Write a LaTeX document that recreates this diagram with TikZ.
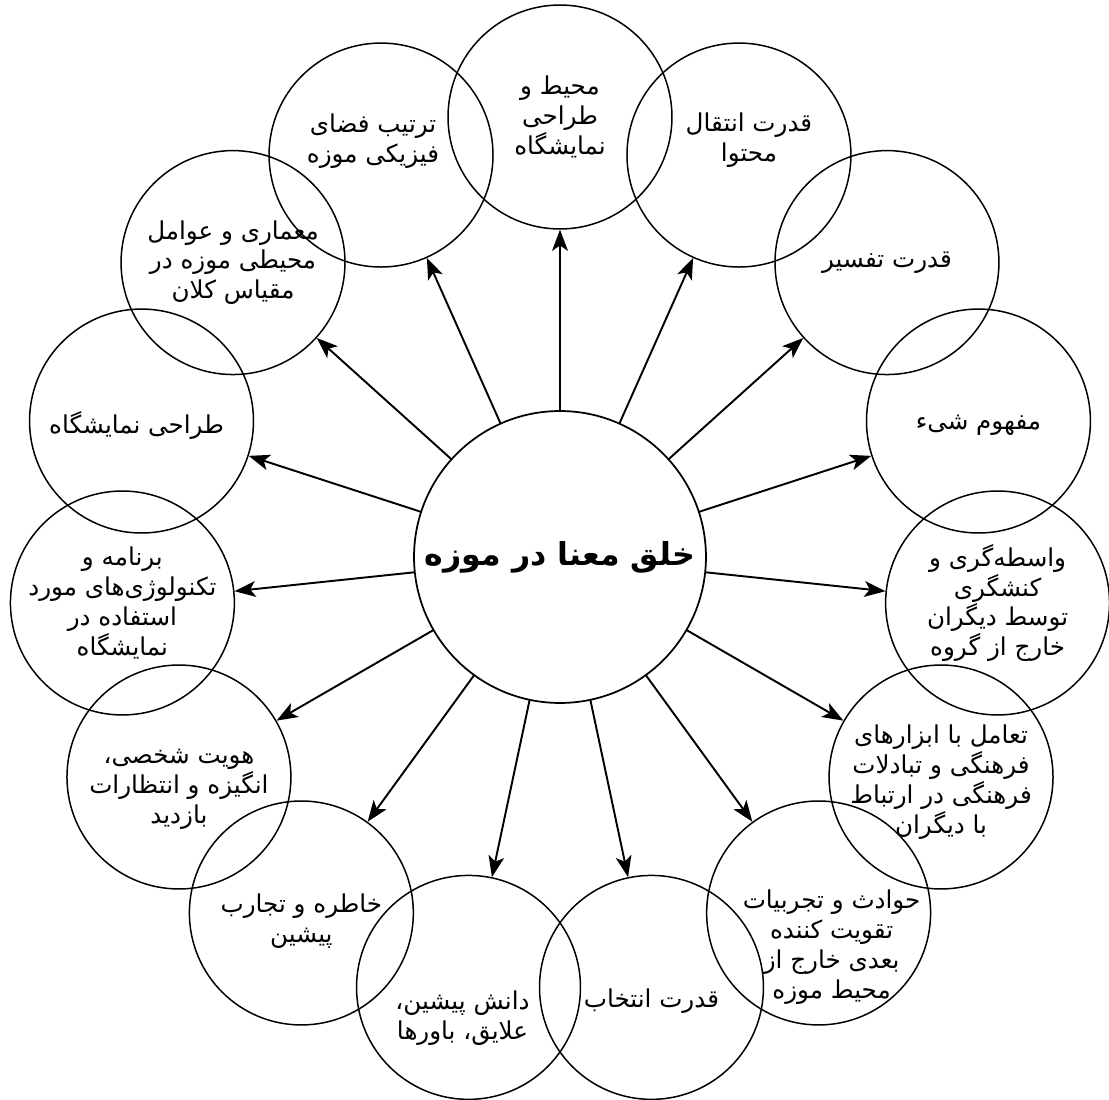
\documentclass[tikz,border=0pt]{standalone}
\usepackage{fontspec}
\usepackage{tikz}
\usetikzlibrary{arrows.meta}
\TeXXeTstate=1
\newfontfamily\farsifont[Script=Arabic]{DejaVu Sans}
\tikzstyle{every node}=[font=\farsifont]
\tikzstyle{idea}=[draw,circle,line width=0.85pt,minimum size=4.48cm,inner sep=0pt]
\tikzstyle{note}=[align=center,inner sep=0pt,font=\farsifont\fontsize{14}{17}\selectfont]
\tikzstyle{core}=[draw,circle,line width=1pt,minimum size=5.84cm,inner sep=0pt,font=\farsifont\bfseries\fontsize{18}{22}\selectfont]
\tikzstyle{link}=[->,line width=1.1pt]

\begin{document}
\begin{tikzpicture}[line cap=round,line join=round,>={Stealth[length=12pt,width=9pt,inset=3pt]},x=0.02cm,y=0.02cm]
\useasboundingbox (-560,-542) rectangle (549,557);
\node[core] (core) at (0,0) {\beginR خلق معنا در موزه\endR};
\node[idea,label={[note]center:{\beginR محیط و\endR\\\beginR طراحی\endR\\\beginR نمایشگاه\endR}}] (env) at (90:440) {};
\node[idea,label={[note,xshift=0.2cm,yshift=0.3cm]center:{\beginR قدرت انتقال\endR\\\beginR محتوا\endR}}] (convey) at (66:440) {};
\node[idea,label={[note]center:{\beginR قدرت تفسیر\endR}}] (interp) at (42:440) {};
\node[idea,label={[note,yshift=-0.08cm]center:{\beginR مفهوم شیء\endR}}] (object) at (18:440) {};
\node[idea,label={[note]center:{\beginR واسطه‌گری و\endR\\\beginR کنشگری\endR\\\beginR توسط دیگران\endR\\\beginR خارج از گروه\endR}}] (mediate) at (-6:440) {};
\node[idea,label={[note,yshift=-0.1cm]center:{\beginR تعامل با ابزارهای\endR\\\beginR فرهنگی و تبادلات\endR\\\beginR فرهنگی در ارتباط\endR\\\beginR با دیگران\endR}}] (interact) at (-30:440) {};
\node[idea,label={[note,xshift=0.26cm,yshift=-0.68cm]center:{\beginR حوادث و تجربیات\endR\\\beginR تقویت کننده\endR\\\beginR بعدی خارج از\endR\\\beginR محیط موزه\endR}}] (events) at (-54:440) {};
\node[idea,label={[note,yshift=-0.28cm]center:{\beginR قدرت انتخاب\endR}}] (choice) at (-78:440) {};
\node[idea,label={[note,xshift=-0.12cm,yshift=-0.62cm]center:{\beginR دانش پیشین،\endR\\\beginR علایق، باورها\endR}}] (knowledge) at (-102:440) {};
\node[idea,label={[note,yshift=-0.17cm]center:{\beginR خاطره و تجارب\endR\\\beginR پیشین\endR}}] (memory) at (-126:440) {};
\node[idea,label={[note,yshift=-0.25cm]center:{\beginR هویت شخصی،\endR\\\beginR انگیزه و انتظارات\endR\\\beginR بازدید\endR}}] (identity) at (-150:440) {};
\node[idea,label={[note]center:{\beginR برنامه و\endR\\\beginR تکنولوژی‌های مورد\endR\\\beginR استفاده در\endR\\\beginR نمایشگاه\endR}}] (tech) at (-174:440) {};
\node[idea,label={[note,xshift=-0.1cm,yshift=-0.08cm]center:{\beginR طراحی نمایشگاه\endR}}] (design) at (162:440) {};
\node[idea,label={[note]center:{\beginR معماری و عوامل\endR\\\beginR محیطی موزه در\endR\\\beginR مقیاس کلان\endR}}] (archi) at (138:440) {};
\node[idea,label={[note,xshift=-0.16cm,yshift=0.28cm]center:{\beginR ترتیب فضای\endR\\\beginR فیزیکی موزه\endR}}] (space) at (114:440) {};
\draw[link] (core) -- (env);
\draw[link] (core) -- (convey);
\draw[link] (core) -- (interp);
\draw[link] (core) -- (object);
\draw[link] (core) -- (mediate);
\draw[link] (core) -- (interact);
\draw[link] (core) -- (events);
\draw[link] (core) -- (choice);
\draw[link] (core) -- (knowledge);
\draw[link] (core) -- (memory);
\draw[link] (core) -- (identity);
\draw[link] (core) -- (tech);
\draw[link] (core) -- (design);
\draw[link] (core) -- (archi);
\draw[link] (core) -- (space);
\end{tikzpicture}
\end{document}
